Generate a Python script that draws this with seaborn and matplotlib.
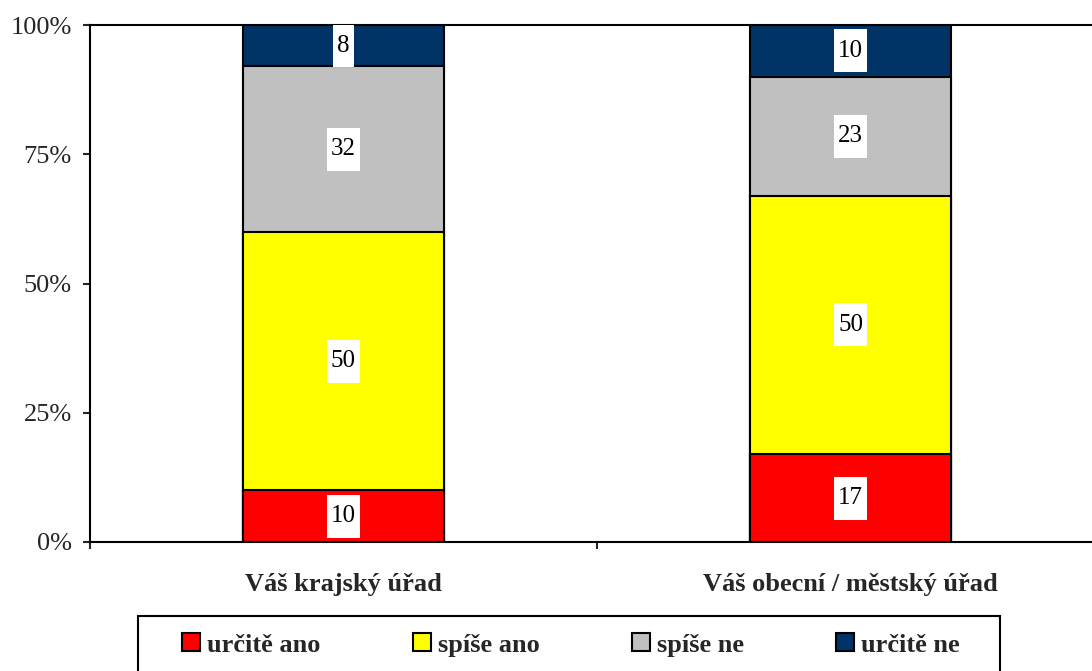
import numpy as np
import matplotlib.pyplot as plt
import matplotlib.patches as mpatches
from matplotlib.path import Path
import seaborn as sns

# data
categories = ['Váš krajský úřad', 'Váš obecní / městský úřad']
series_names = ['určitě ano', 'spíše ano', 'spíše ne', 'určitě ne']
urcite_ano = [10, 17]
spise_ano = [50, 50]
spise_ne = [32, 23]
urcite_ne = [8, 10]
y_ticks = [0, 25, 50, 75, 100]
y_tick_labels = ['0%', '25%', '50%', '75%', '100%']

colors = ['#FF0000', '#FFFF00', '#C0C0C0', '#003366']

sns.set_style('white')
plt.rcParams['font.family'] = ['Liberation Serif', 'DejaVu Serif']

fig = plt.figure(figsize=(10.92, 6.71), dpi=100)
ax = fig.add_axes([90 / 1092, 1 - 542 / 671, 1 - 90 / 1092, (542 - 25) / 671])

layers = np.array([urcite_ano, spise_ano, spise_ne, urcite_ne], dtype=float)
tops = np.cumsum(layers, axis=0)
bottoms = tops - layers

# stacked bars: draw tallest cumulative first so smaller ones sit on top
for i in range(len(series_names) - 1, -1, -1):
    sns.barplot(x=categories, y=tops[i], color=colors[i], saturation=1,
                width=0.395, edgecolor='black', linewidth=1.5, ax=ax)


def tall_box(x0, y0, width, height, mutation_scale):
    # white label box: narrow horizontally, tall vertically
    padx = 0.17 * mutation_scale
    pady = 0.42 * mutation_scale
    x0, x1 = x0 - padx, x0 + width + padx
    y0, y1 = y0 - pady, y0 + height + pady
    return Path([(x0, y0), (x1, y0), (x1, y1), (x0, y1), (x0, y0)], closed=True)


for i in range(len(series_names)):
    for j in range(len(categories)):
        mid = bottoms[i, j] + layers[i, j] / 2
        ax.text(j, mid, f'{int(layers[i, j])}', ha='center', va='center',
                fontsize=18, color='black',
                bbox=dict(boxstyle=tall_box, facecolor='white', edgecolor='none'),
                clip_on=True)

ax.set_yticks(y_ticks)
ax.set_yticklabels(y_tick_labels, fontsize=19)
ax.set_xticks([0, 1])
ax.set_xticklabels(categories, fontsize=19, fontweight='bold')
ax.set_xticks([-0.5, 0.5, 1.5], minor=True)
ax.tick_params(axis='x', which='major', length=0, pad=22)
ax.tick_params(axis='x', which='minor', length=5, width=1.5, direction='out', bottom=True)
ax.tick_params(axis='y', length=5, width=1.5, direction='out', left=True, pad=8)
ax.set_ylim(0, 100)
ax.set_xlim(-0.5, 0.5 + (1092 - 597) / 507)
ax.set_xlabel('')
ax.set_ylabel('')

for side in ['left', 'bottom', 'top']:
    ax.spines[side].set_visible(True)
    ax.spines[side].set_color('black')
    ax.spines[side].set_linewidth(1.5)
ax.spines['right'].set_visible(False)

handles = [mpatches.Patch(facecolor=c, edgecolor='black', linewidth=1.5) for c in colors]
fig.legend(handles, series_names, loc='center', bbox_to_anchor=(571 / 1092, 1 - 645 / 671),
           ncol=4, frameon=False, handlelength=0.68, handleheight=0.68,
           handletextpad=0.27, columnspacing=3.5,
           prop={'size': 19, 'weight': 'bold'})

legend_box = mpatches.Rectangle((138 / 1092, -0.2), (1000 - 138) / 1092, 0.2 + 1 - 616 / 671,
                                transform=fig.transFigure, fill=False,
                                edgecolor='black', linewidth=1.5, clip_on=False)
fig.patches.append(legend_box)

plt.savefig('out.png', dpi=100)
